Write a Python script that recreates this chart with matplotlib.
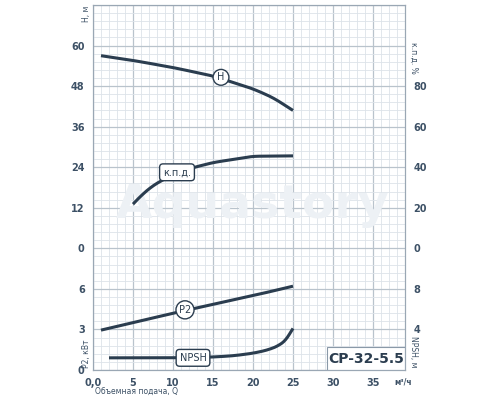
import matplotlib
matplotlib.use("Agg")
import matplotlib.pyplot as plt
from matplotlib.patches import Rectangle
import numpy as np

q_h = [1, 5, 10, 15, 20, 22.5, 25]
h_m = [57, 55.6, 53.5, 51, 47.2, 44.6, 40.8]
q_eff = [5, 6, 7.5, 10, 12.5, 15, 20, 25]
eff_pct = [21.8, 26, 31, 36.5, 39.8, 42.3, 45.4, 45.6]
q_p2 = [1, 5, 10, 15, 20, 25]
p2_kw = [2.95, 3.5, 4.2, 4.85, 5.5, 6.2]
q_npsh = [2, 8, 12, 15, 17.5, 20, 22, 23.5, 24.5, 25]
npsh_m = [1.2, 1.2, 1.22, 1.28, 1.4, 1.65, 2.0, 2.5, 3.2, 4.1]
x_ticks = [0, 5, 10, 15, 20, 25, 30, 35]
x_ticklabels = ["0,0", "5", "10", "15", "20", "25", "30", "35"]
left_labels = ["0", "3", "6", "0", "12", "24", "36", "48", "60"]
right_labels = ["", "4", "8", "0", "20", "40", "60", "80", ""]

C = "#2b3d4f"
TC = "#3d5166"
fig = plt.figure(figsize=(5, 4), dpi=100)
ax = fig.add_axes([0.186, 0.075, 0.624, 0.9125])
ax.set_xlim(0, 39)
ax.set_ylim(0, 9)

for x in np.arange(0, 39.01, 1):
    ax.axvline(x, color="#dde3e9" if x % 5 else "#b9c3cc", lw=0.6 if x % 5 else 0.9, zorder=0)
for y in np.arange(0, 9.01, 0.2):
    major = abs(y - round(y)) < 1e-6
    ax.axhline(y, color="#b9c3cc" if major else "#dde3e9", lw=0.9 if major else 0.6, zorder=0)

ax.text(20, 4.05, "Aquastory", fontsize=34, color="#edf1f5", ha="center", va="center",
        fontweight="bold", zorder=1)

def smooth(xs, ys, n=300, w=25):
    xx = np.linspace(xs[0], xs[-1], n)
    yy = np.interp(xx, xs, ys)
    pad = w // 2
    # reflect-linear extension to keep endpoints
    left = 2 * yy[0] - yy[1:pad + 1][::-1]
    right = 2 * yy[-1] - yy[-pad - 1:-1][::-1]
    ext = np.concatenate([left, yy, right])
    k = np.ones(w) / w
    return xx, np.convolve(ext, k, mode="valid")

hy = 3 + np.array(h_m) / 12
ey = 3 + np.array(eff_pct) / 20
py = np.array(p2_kw) / 3
ny = np.array(npsh_m) / 4
for xs, ys in [(q_h, hy), (q_eff, ey), (q_p2, py), (q_npsh, ny)]:
    xx, yy = smooth(xs, ys)
    ax.plot(xx, yy, color=C, lw=2.2, zorder=3, solid_capstyle="butt")

def label(x, y, s, circle=False):
    bs = "circle,pad=0.3" if circle else "round,pad=0.35"
    ax.text(x, y, s, fontsize=7, color=C, ha="center", va="center", zorder=4,
            bbox=dict(boxstyle=bs, fc="white", ec=C, lw=1))

label(16, 3 + 50.6 / 12, "H", circle=True)
label(10.5, 3 + 37.5 / 20, "к.п.д.")
label(11.5, 4.45 / 3, "P2", circle=True)
label(12.5, 1.2 / 4, "NPSH")

ax.add_patch(Rectangle((29.2, 0), 9.8, 0.56, fc="white", ec="#8a99a8", lw=0.8, zorder=5))
ax.text(34.1, 0.28, "CP-32-5.5", fontsize=10, fontweight="bold", color=C, ha="center", va="center", zorder=6)

ax.set_xticks(x_ticks)
ax.set_xticklabels(x_ticklabels)
ax.set_yticks(range(9))
ax.set_yticklabels(left_labels)
ax.tick_params(length=0, labelsize=7, colors=TC, pad=6)
for t in ax.get_xticklabels() + ax.get_yticklabels():
    t.set_fontweight("bold")
ax2 = ax.twinx()
ax2.set_ylim(0, 9)
ax2.set_yticks(range(9))
ax2.set_yticklabels(right_labels)
ax2.tick_params(length=0, labelsize=7, colors=TC, pad=6)
for t in ax2.get_yticklabels():
    t.set_fontweight("bold")
for a in (ax, ax2):
    for s in ("top", "bottom", "left", "right"):
        a.spines[s].set_color("#9aa7b4")
        a.spines[s].set_linewidth(0.8)

fig.text(0.172, 0.985, "H, м", rotation=90, fontsize=5.5, color=TC, ha="center", va="top")
fig.text(0.172, 0.08, "P2, кВт", rotation=90, fontsize=5.5, color=TC, ha="center", va="bottom")
fig.text(0.828, 0.895, "к.п.д. %", rotation=270, fontsize=5.5, color=TC, ha="center", va="top")
fig.text(0.828, 0.08, "NPSH, м", rotation=270, fontsize=5.5, color=TC, ha="center", va="bottom")
fig.text(0.806, 0.045, "м³/ч", fontsize=5.5, color=TC, ha="center", va="center", fontweight="bold")
fig.text(0.19, 0.01, "Объемная подача, Q", fontsize=5.5, color=TC, ha="left", va="bottom")
fig.savefig("out.png", dpi=100)
